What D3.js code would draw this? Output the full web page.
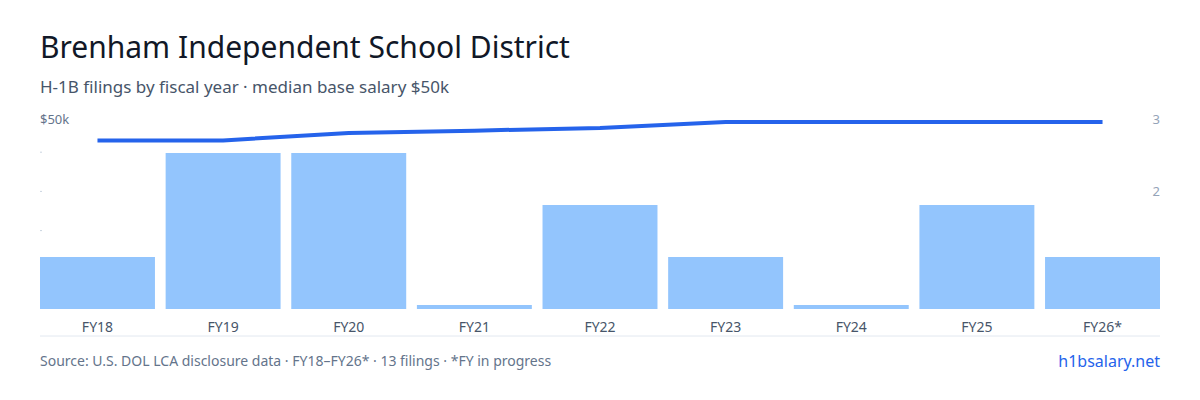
<!DOCTYPE html>
<html><head><meta charset="utf-8">
<script src="https://cdn.jsdelivr.net/npm/d3@7"></script>
<style>body{margin:0;background:#fff;font-family:"Noto Sans",sans-serif}</style>
</head><body><svg id="c" width="1200" height="400"></svg>
<script>
const years = ["FY18","FY19","FY20","FY21","FY22","FY23","FY24","FY25","FY26*"]
const filings = [1,3,3,0,2,1,0,2,1]
const salary = [43000,43000,44900,45500,46200,47700,47700,47700,47700]
const salaryTicks = [10000,20000,30000,40000,50000]
const countTicks = [2,3]

var svg = d3.select("#c")

svg.append("text").attr("x",40).attr("y",58).attr("font-size",30).attr("fill","#111827").text("Brenham Independent School District")
svg.append("text").attr("x",40).attr("y",93).attr("font-size",17).attr("fill","#475569").text("H-1B filings by fiscal year · median base salary $50k")

var x = d3.scaleBand().domain(years).range([40,1160]).paddingInner(0.085).paddingOuter(0)
var yc = d3.scaleLinear().domain([0,3]).range([309,153])
var yr = d3.scaleLinear().domain([0,3]).range([335,119]) // right-hand labels
var ys = d3.scaleLinear().domain([0,50000]).range([309,113])

// left tick marks
svg.selectAll(".lt").data(salaryTicks.slice(0,4)).enter().append("line")
	.attr("x1",40).attr("x2",42).attr("y1",d=>ys(d)).attr("y2",d=>ys(d))
	.attr("stroke","#cbd5e1")
svg.append("text").attr("x",40).attr("y",ys(50000)+11).attr("font-size",13).attr("fill","#64748b").text("$50k")

svg.selectAll(".rt").data(countTicks).enter().append("text")
	.attr("x",1160).attr("y",d=>yr(d)+5).attr("text-anchor","end")
	.attr("font-size",13).attr("fill","#94a3b8").text(d=>d)

svg.selectAll(".bar").data(filings).enter().append("rect")
	.attr("x",(d,i)=>x(years[i])).attr("width",x.bandwidth())
	.attr("y",d=>Math.min(yc(d),305)).attr("height",d=>Math.max(309-yc(d),4))
	.attr("fill","#93c5fd")

svg.append("line").attr("x1",40).attr("x2",1160).attr("y1",336).attr("y2",336).attr("stroke","#e2e8f0")

svg.selectAll(".xl").data(years).enter().append("text")
	.attr("x",d=>x(d)+x.bandwidth()/2).attr("y",332).attr("text-anchor","middle")
	.attr("font-size",14).attr("fill","#475569").text(d=>d)

var line = d3.line().x((d,i)=>x(years[i])+x.bandwidth()/2).y(d=>ys(d))
svg.append("path").datum(salary).attr("d",line).attr("fill","none")
	.attr("stroke","#2563eb").attr("stroke-width",4)

svg.append("text").attr("x",40).attr("y",366).attr("font-size",14).attr("fill","#64748b")
	.text("Source: U.S. DOL LCA disclosure data · FY18–FY26* · 13 filings · *FY in progress")
svg.append("text").attr("x",1160).attr("y",367).attr("text-anchor","end").attr("font-size",16).attr("fill","#2563eb").text("h1bsalary.net")
</script></body></html>
